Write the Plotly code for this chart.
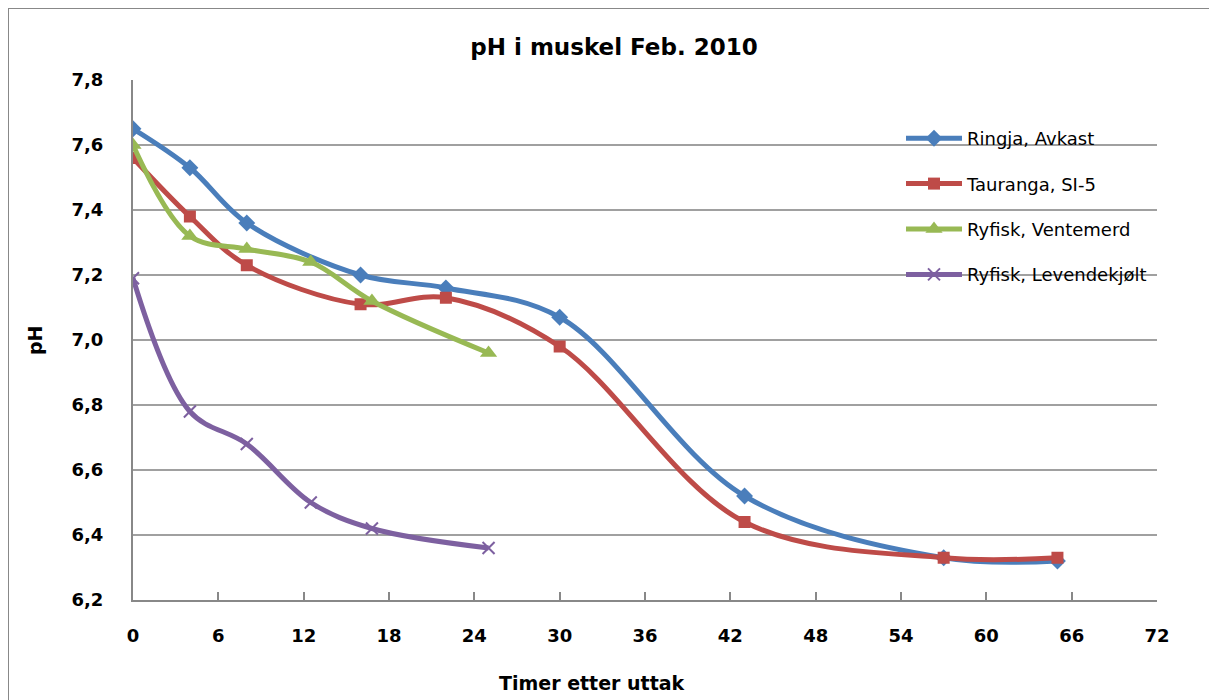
import plotly.graph_objects as go

# ---- data ----
x_ringja = [0, 4, 8, 16, 22, 30, 43, 57, 65]
ph_ringja = [7.65, 7.53, 7.36, 7.20, 7.16, 7.07, 6.52, 6.33, 6.32]

x_tauranga = [0, 4, 8, 16, 22, 30, 43, 57, 65]
ph_tauranga = [7.56, 7.38, 7.23, 7.11, 7.13, 6.98, 6.44, 6.33, 6.33]

x_ventemerd = [0, 4, 8, 12.5, 16.8, 25]
ph_ventemerd = [7.60, 7.32, 7.28, 7.24, 7.12, 6.96]

x_levende = [0, 4, 8, 12.5, 16.8, 25]
ph_levende = [7.19, 6.78, 6.68, 6.50, 6.42, 6.36]

series_names = ["Ringja, Avkast", "Tauranga, SI-5", "Ryfisk, Ventemerd", "Ryfisk, Levendekjølt"]
series_colors = ["#4A7EBB", "#BE4B48", "#98B954", "#7D60A0"]
series_symbols = ["diamond", "square", "triangle-up", "x-thin"]

x_ticks = list(range(0, 73, 6))
y_ticks = [6.2, 6.4, 6.6, 6.8, 7.0, 7.2, 7.4, 7.6, 7.8]
y_tick_labels = ["6,2", "6,4", "6,6", "6,8", "7,0", "7,2", "7,4", "7,6", "7,8"]

FONT = "'DejaVu Sans', sans-serif"

fig = go.Figure()
all_x = [x_ringja, x_tauranga, x_ventemerd, x_levende]
all_y = [ph_ringja, ph_tauranga, ph_ventemerd, ph_levende]
sizes = [13, 12, 15, 12]
for i in range(4):
    marker = dict(symbol=series_symbols[i], size=sizes[i], color=series_colors[i])
    if series_symbols[i] == "x-thin":
        marker["line"] = dict(color=series_colors[i], width=2)
    fig.add_trace(go.Scatter(
        x=all_x[i], y=all_y[i], name=series_names[i],
        mode="lines+markers",
        line=dict(color=series_colors[i], width=5, shape="spline", smoothing=1.0),
        marker=marker,
        legendgroup=f"g{i}",
    ))

# the page is shown with an 8px body margin: screen = layout + 8
OFF = 8
W, H = 1217, 700
# plot area in screen pixels
SX0, SX1, SY0, SY1 = 133, 1157, 80, 600
L = SX0 - OFF
T = SY0 - OFF
pw = SX1 - SX0
ph = SY1 - SY0
R = W - L - pw
B = H - T - ph

def px_x(s):
    return (s - SX0) / pw

def px_y(s):
    return (SY1 - s) / ph

fig.update_layout(
    width=W, height=H,
    margin=dict(l=L, r=R, t=T, b=B, autoexpand=False),
    paper_bgcolor="white", plot_bgcolor="white",
    font=dict(family=FONT, color="black"),
    title=dict(text="<b>pH i muskel Feb. 2010</b>", x=(614 - OFF) / W, xanchor="center",
               y=1 - (47 - OFF) / H, yanchor="middle", xref="container", yref="container",
               font=dict(size=23, family=FONT, color="black")),
    xaxis=dict(range=[0, 72], tickvals=x_ticks, ticktext=[f"<b>{v}</b>" for v in x_ticks],
               ticks="inside", ticklen=8, tickwidth=2, tickcolor="#888888",
               showline=True, linecolor="#888888", linewidth=2,
               showgrid=False, zeroline=False,
               tickfont=dict(size=18, family=FONT, color="black"),
               ticklabelstandoff=18),
    yaxis=dict(range=[6.2, 7.8], tickvals=y_ticks, ticktext=[f"<b>{t}</b>" for t in y_tick_labels],
               ticks="", showline=True, linecolor="#888888", linewidth=2,
               showgrid=True, gridcolor="#A0A0A0", gridwidth=2,
               zeroline=False,
               tickfont=dict(size=18, family=FONT, color="black"),
               ticklabelstandoff=24),
    legend=dict(x=px_x(901), y=px_y(120), xanchor="left", yanchor="top",
                bgcolor="rgba(0,0,0,0)", tracegroupgap=19, itemwidth=56,
                font=dict(size=18, family=FONT, color="black")),
    showlegend=True,
    shapes=[dict(type="rect", xref="paper", yref="paper",
                 x0=px_x(8), x1=px_x(1260), y0=px_y(780), y1=px_y(8),
                 line=dict(color="#888888", width=2), fillcolor="rgba(0,0,0,0)",
                 layer="below")],
    annotations=[
        dict(text="<b>Timer etter uttak</b>", x=px_x(592), y=px_y(683), xref="paper", yref="paper",
             xanchor="center", yanchor="middle", showarrow=False,
             font=dict(size=19, family=FONT, color="black")),
        dict(text="<b>pH</b>", x=px_x(35), y=px_y(340), xref="paper", yref="paper",
             xanchor="center", yanchor="middle", showarrow=False, textangle=-90,
             font=dict(size=19, family=FONT, color="black")),
    ],
)

fig.write_html("out.html")
